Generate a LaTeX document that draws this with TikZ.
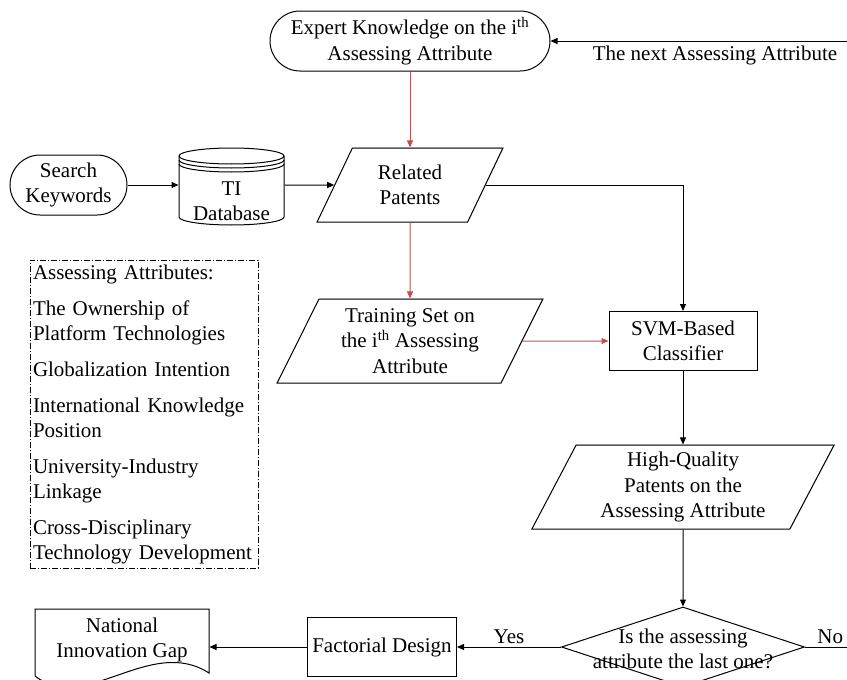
\documentclass[tikz,border=0pt]{standalone}
\usepackage{fontspec}
\setmainfont{Liberation Serif}
\usetikzlibrary{shapes.geometric,arrows.meta,shadows}
\definecolor{flowred}{RGB}{192,80,77}

\begin{document}
\begin{tikzpicture}[x=1pt,y=-1pt,line width=1pt,
    every node/.style={font=\fontsize{21}{25.5}\selectfont,align=center,inner sep=0pt},
    terminal/.style={draw,rectangle,rounded corners=30pt,minimum height=60pt},
    iobox/.style={draw,fill=white,trapezium,trapezium left angle=64,trapezium right angle=116,
      trapezium stretches=true,minimum height=84pt,
      drop shadow={shadow xshift=1.5pt,shadow yshift=1pt,opacity=0.25}},
    process/.style={draw,rectangle,minimum height=59pt},
    flow/.style={-{Triangle[length=7pt,width=6pt]}},
    redflow/.style={flow,draw=flowred,color=flowred}]
  \useasboundingbox (0,0) rectangle (847,680);

  % nodes
  \node[terminal,minimum width=280pt] (Expert) at (410,41) {Expert Knowledge on the i\textsuperscript{th}\\Assessing Attribute};
  \node[terminal,minimum width=117pt] (Search) at (68.5,185) {Search\\Keywords};
  \node[minimum width=105pt] (DB) at (231.5,201) {TI\\Database};
  \node[iobox,minimum width=186pt,minimum height=74pt] (Related) at (410,185) {Related\\Patents};
  \node[iobox,minimum width=266pt] (Training) at (410,341) {Training Set on\\the i\textsuperscript{th} Assessing\\Attribute};
  \node[process,minimum width=148pt] (SVM) at (683,341) {SVM-Based\\Classifier};
  \node[iobox,minimum width=303pt] (HQ) at (683,487) {High-Quality\\Patents on the\\Assessing Attribute};
  \node[draw,diamond,minimum width=243pt,minimum height=80pt] (Decision) at (683,647) {};
  \node (DecisionText) at (683,649) {Is the assessing\\attribute the last one?};
  \node[process,minimum width=149pt] (Factorial) at (382,647) {Factorial Design};
  \node[minimum width=174pt] (Gap) at (122,640) {National\\Innovation Gap};
  \node (NextLabel) at (715,55) {The next Assessing Attribute};
  \node[draw,dash pattern=on 6pt off 2pt on 1pt off 2pt,minimum width=228pt,minimum height=308pt,
    text width=222pt,align=left,font=\fontsize{21}{25}\selectfont] (Legend) at (144,414)
    {Assessing Attributes:\\[11pt]
     The Ownership of\\Platform Technologies\\[11pt]
     Globalization Intention\\[11pt]
     International Knowledge\\Position\\[11pt]
     University-Industry\\Linkage\\[11pt]
     Cross-Disciplinary\\Technology Development};

  % database drum and document outlines
  \draw (179,156) arc[start angle=180,end angle=0,x radius=52.5pt,y radius=8pt]
    -- (284,217) arc[start angle=0,end angle=-180,x radius=52.5pt,y radius=8pt] -- cycle;
  \foreach \dy in {0,4,8}
    \draw (179,156+\dy) arc[start angle=180,end angle=360,x radius=52.5pt,y radius=8pt];
  \draw (35,609) -- (209,609) -- (209,673) .. controls (150,635) and (85,715) .. (35,676) -- cycle;

  % connectors
  \draw[flow] (Search) -- (Search -| DB.west);
  \draw[flow] (DB.east |- Related) -- (Related);
  \draw[flow] (Related) -| (SVM);
  \draw[redflow] (Expert) -- (Related);
  \draw[redflow] (Related) -- (Training);
  \draw[redflow] (Training) -- (SVM);
  \draw[flow] (SVM) -- (HQ);
  \draw[flow] (HQ) -- (Decision);
  \draw[flow] (Decision) -- node[above=3pt] (YesLabel) {Yes} (Factorial);
  \draw[flow] (Factorial) -- (Factorial -| Gap.east);
  \draw[flow] (Decision.east) -- node[above=3pt,pos=0.36] (NoLabel) {No} ++(70,0) |- (Expert);
\end{tikzpicture}
\end{document}
